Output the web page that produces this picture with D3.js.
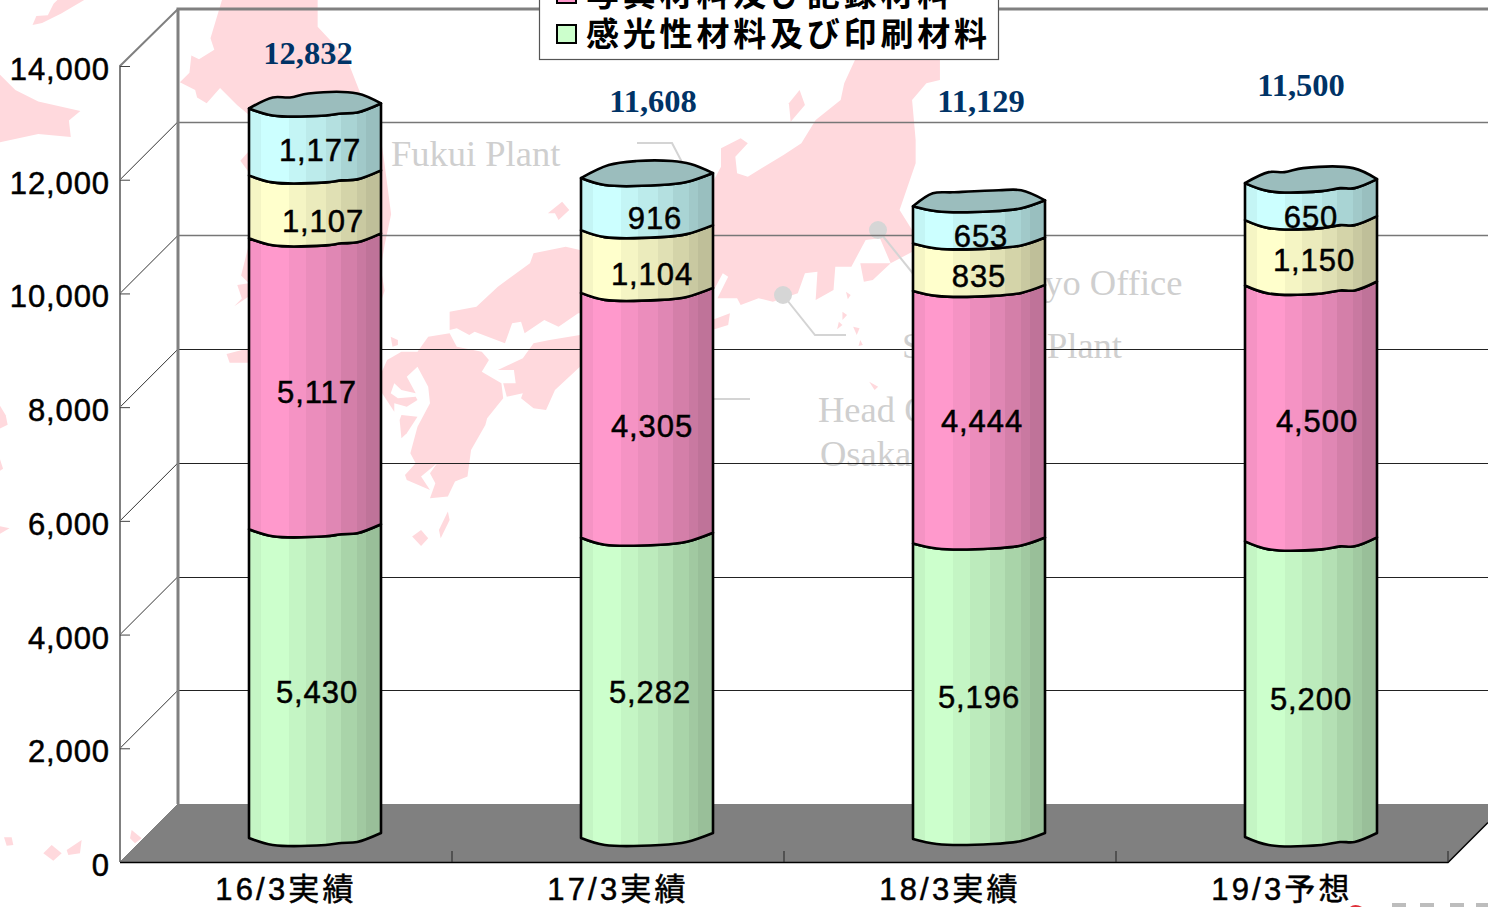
<!DOCTYPE html>
<html lang="ja">
<head>
<meta charset="utf-8">
<title>Sales by product group</title>
<script src="https://cdn.jsdelivr.net/npm/d3@7"></script>
<style>
  html, body { margin: 0; padding: 0; background: #fff; overflow: hidden; }
  svg { display: block; }
  text { font-family: "Liberation Sans", "Noto Sans CJK JP", sans-serif; fill: #000; }
  .num { font-size: 31px; letter-spacing: 0.9px; stroke: #000; stroke-width: 0.5px; }
  .total { font-family: "Liberation Serif", serif; font-weight: bold; font-size: 32.5px; fill: #003366; }
  .faint { font-family: "Liberation Serif", serif; font-size: 36.5px; fill: #cfcfcf; }
  .cat { font-size: 31px; letter-spacing: 3.2px; stroke: #000; stroke-width: 0.5px; }
  .legend-text { font-size: 33px; letter-spacing: 3.8px; font-weight: 700; }
</style>
</head>
<body>
<svg id="chart" width="1488" height="907"></svg>
<script>
// values
const categories = ['16/3実績', '17/3実績', '18/3実績', '19/3予想'];
const greenValues = [5430, 5282, 5196, 5200];
const pinkValues = [5117, 4305, 4444, 4500];
const yellowValues = [1107, 1104, 835, 1150];
const cyanValues = [1177, 916, 653, 650];
const totals = [12832, 11608, 11129, 11500];
const tickValues = [0, 2000, 4000, 6000, 8000, 10000, 12000, 14000];
const legendNames = ['写真材料及び記録材料', '感光性材料及び印刷材料'];
const placeNames = ['Fukui Plant', 'Tokyo Office', 'Shizuoka Plant', 'Head Office', 'Osaka'];

const seriesKeys = ['green', 'pink', 'yellow', 'cyan'];
const seriesValues = { green: greenValues, pink: pinkValues, yellow: yellowValues, cyan: cyanValues };
const seriesColors = { green: '#ccffcc', pink: '#ff99cc', yellow: '#ffffcc', cyan: '#ccffff' };

// box geometry
const W = 1488, H = 907;
const depth = 58, half = depth / 2;
const barW = 132;
const y = d3.scaleLinear().domain([0, 14000]).range([862, 66]);
const x = d3.scaleBand().domain(categories).range([120, 1448]);
const barCenter = (c) => x(c) + x.bandwidth() / 2 + half;

// wobbly rims of the cylinders, [fraction of width, dy]
const frontRims = [
  [[0, 5], [.18, 12], [.58, 12], [.7, 10], [.82, 9], [1, 0]],
  [[0, 5], [.18, 12], [.6, 12], [.8, 9], [1, 0]],
  [[0, 6], [.18, 11], [.6, 11], [.82, 8], [1, 0]],
  [[0, 4], [.18, 12], [.58, 12], [.72, 9], [.83, 9], [1, 0]],
];
const backRims = [
  [[0, 5], [.18, -6], [.31, -6], [.45, -10], [.82, -10], [1, 0]],
  [[0, 5], [.21, -8], [.42, -12], [.69, -12], [.83, -9], [1, 0]],
  [[0, 6], [.15, -7], [.3, -8], [.65, -10], [.82, -10], [1, 0]],
  [[0, 4], [.18, -7], [.3, -7], [.44, -11], [.82, -11], [1, 0]],
];
// vertical shading bands of the cylinders
const bands = [[0, .96], [.09, 1], [.3, .96], [.43, .92], [.58, .88], [.7, .83], [.82, .79], [.89, .75]];

// label placement relative to the middle of a segment, [dx, dy], per column
const labelNudge = [
  { green: [2, 0], pink: [2, 0], yellow: [8, 6], cyan: [5, 0] },
  { green: [3, -4], pink: [5, 3], yellow: [5, 4], cyan: [8, 6] },
  { green: [0, -1], pink: [3, -3], yellow: [0, 2], cyan: [2, 4] },
  { green: [0, 1], pink: [6, -1], yellow: [3, -2], cyan: [0, 6] },
];
const totalPos = [[308, 64], [653, 112], [981, 112], [1301, 96]];

const svg = d3.select('#chart').attr('viewBox', `0 0 ${W} ${H}`);
const defs = svg.append('defs');
const line = d3.line();
const rimLine = d3.line().curve(d3.curveCatmullRom.alpha(0.5));

seriesKeys.forEach((k) => {
  const base = d3.rgb(seriesColors[k]);
  const g = defs.append('linearGradient').attr('id', 'shade-' + k);
  bands.forEach(([f, s], i) => {
    const next = i + 1 < bands.length ? bands[i + 1][0] : 1;
    const col = d3.rgb(base.r * s, base.g * s, base.b * s).formatHex();
    g.append('stop').attr('offset', f).attr('stop-color', col);
    g.append('stop').attr('offset', next).attr('stop-color', col);
  });
});

// background map, traced shapes
function drawMap() {
  const pink = '#ffd9dd';
  const left = svg.append('g').attr('fill', pink);
  const farWest = [
    [[85, 65], [95, 42], [125, 40], [140, 10], [150, 0], [220, 0], [160, 35], [110, 60]],
    [[0, 195], [40, 235], [100, 265], [210, 290], [180, 315], [185, 358], [100, 350], [0, 372]],
    [[0, 1060], [15, 1085], [20, 1110], [0, 1120]],
    [[0, 1375], [25, 1380], [0, 1395]],
    [[0, 1200], [8, 1225], [0, 1230]],
    // northern island, runs behind the first column
    [[580, 0], [550, 100], [560, 130], [520, 155], [500, 145], [495, 190], [470, 215], [510, 235], [515, 255], [540, 270], [575, 230],
      [620, 275], [650, 300], [650, 395], [628, 420], [650, 450], [650, 640], [630, 720], [650, 740], [620, 745], [632, 780], [612, 800],
      [650, 775], [995, 790], [1005, 760], [995, 700], [1005, 640], [1022, 560], [1005, 430], [995, 360], [940, 240], [905, 150], [830, 70], [830, 0]],
    [[592, 925], [650, 910], [650, 948], [600, 948]],
  ];
  farWest.forEach((p) => left.append('path').attr('d', line(p) + 'Z').attr('transform', 'scale(0.3827)'));

  const southWest = [
    [[12, 412], [35, 412], [40, 435], [20, 437]],
    [[130, 460], [155, 435], [185, 460], [160, 482]],
    [[200, 450], [245, 420], [240, 460], [205, 465]],
    [[395, 390], [425, 415], [405, 430], [390, 415]],
  ];
  southWest.forEach((p) => left.append('path').attr('d', line(p) + 'Z').attr('transform', 'translate(0,700) scale(0.3333)'));

  // main islands
  const main = svg.append('g').attr('fill', pink).attr('transform', 'translate(380,50) scale(0.3571,0.3333)');
  const shapes = [
    // Honshu
    [[1330, 30], [1300, 100], [1290, 150], [1220, 210], [1180, 280], [1130, 315], [1030, 380], [1000, 370], [995, 320], [1030, 280], [1010, 265],
      [955, 295], [955, 350], [930, 400], [800, 500], [560, 600], [520, 590], [430, 610], [420, 640], [330, 710], [270, 770], [195, 785], [195, 840],
      [215, 835], [250, 855], [265, 845], [350, 880], [370, 820], [395, 815], [405, 850], [460, 810], [500, 830], [555, 790], [800, 790], [930, 730],
      [960, 670], [975, 680], [945, 745], [1000, 745], [1010, 765], [1060, 745], [1100, 755], [1170, 730], [1190, 670], [1225, 665], [1220, 750],
      [1270, 720], [1275, 650], [1320, 650], [1360, 570], [1400, 565], [1430, 640], [1380, 690], [1355, 695], [1345, 640], [1430, 640], [1500, 600],
      [1490, 540], [1455, 480], [1500, 340], [1500, 270], [1490, 150], [1530, 100], [1568, 90], [1568, 30]],
    // Kii
    [[800, 900], [930, 810], [980, 790], [975, 825], [930, 840], [800, 1000]],
    // Shikoku
    [[560, 855], [475, 870], [430, 880], [400, 925], [330, 960], [375, 960], [380, 1000], [345, 1000], [355, 1040], [400, 1030], [395, 1045], [430, 1075],
      [465, 1080], [490, 1020], [560, 950]],
    // Kyushu
    [[135, 860], [195, 850], [215, 890], [285, 905], [305, 930], [285, 965], [340, 1000], [345, 1045], [300, 1105], [295, 1125], [255, 1200], [245, 1280],
      [210, 1295], [190, 1340], [140, 1345], [155, 1300], [140, 1270], [160, 1240], [115, 1280], [140, 1320], [75, 1290], [70, 1275], [100, 1240], [85, 1210],
      [105, 1130], [140, 1060], [135, 1010], [105, 950], [75, 980], [100, 1030], [60, 1020], [40, 1000], [30, 1030], [50, 1045], [100, 1040], [105, 1050],
      [75, 1070], [40, 1060], [40, 1085], [0, 1020], [5, 965], [20, 930], [60, 905], [105, 905]],
    [[60, 1095], [105, 1100], [75, 1150], [60, 1165], [55, 1110]],
    [[190, 1385], [195, 1410], [170, 1465], [165, 1440]],
    [[90, 1460], [115, 1440], [135, 1465], [115, 1488]],
    [[30, 860], [50, 870], [50, 885], [35, 890]],
    [[470, 490], [510, 455], [530, 480], [500, 510], [490, 490]],
    // Sado
    [[1175, 120], [1190, 165], [1150, 215], [1145, 160]],
    // Izu islands
    [[1305, 725], [1318, 735], [1310, 748]], [[1295, 785], [1308, 795], [1295, 810]], [[1285, 815], [1295, 825], [1280, 838]],
    [[1325, 830], [1343, 835], [1335, 855]], [[1345, 870], [1352, 885], [1340, 888]], [[1370, 995], [1395, 1010], [1385, 1020]],
  ];
  shapes.forEach((p) => main.append('path').attr('d', line(p) + 'Z'));
}

function drawPlaceLabels() {
  const g = svg.append('g');
  const pos = [[391, 166], [988, 295], [902, 358], [818, 422], [820, 466]];
  placeNames.forEach((n, i) => {
    g.append('text').attr('class', 'faint').attr('x', pos[i][0]).attr('y', pos[i][1]).text(n);
  });
  const leaders = [
    [[637, 143], [672, 143], [684, 166]],
    [[700, 399], [750, 399]],
    [[783, 295], [815, 335], [846, 335]],
    [[878, 230], [915, 276]],
  ];
  leaders.forEach((p) => g.append('path').attr('d', line(p)).attr('fill', 'none').attr('stroke', '#d4d4d4').attr('stroke-width', 2));
  g.selectAll('circle').data([[783, 295], [878, 230]]).join('circle')
    .attr('cx', (d) => d[0]).attr('cy', (d) => d[1]).attr('r', 9).attr('fill', '#d6d6d6');
}

function drawBox() {
  const grey = '#808080';
  svg.append('path')
    .attr('d', line([[120, 862], [120 + depth, 862 - depth], [W, 862 - depth], [W, 822], [1448, 862]]) + 'Z')
    .attr('fill', grey);

  // gridlines on the back and side walls
  const grid = svg.append('g').attr('fill', 'none');
  tickValues.filter((t) => t > 0 && t < 14000).forEach((t) => {
    const yy = Math.round(y(t)) - depth + 0.5;
    const heavy = t >= 10000;
    grid.append('line').attr('x1', 120 + depth).attr('x2', W).attr('y1', yy).attr('y2', yy)
      .attr('stroke', heavy ? '#777' : '#222').attr('stroke-width', heavy ? 1.5 : 1);
    grid.append('line').attr('x1', 120).attr('x2', 120 + depth).attr('y1', y(t)).attr('y2', y(t) - depth)
      .attr('stroke', '#333').attr('stroke-width', 1);
  });

  // walls
  svg.append('path').attr('d', line([[120, 862], [120, 66], [178, 9], [W, 9]])).attr('fill', 'none').attr('stroke', grey).attr('stroke-width', 2);
  svg.append('path').attr('d', line([[178, 804], [178, 9], [W, 9]])).attr('fill', 'none').attr('stroke', grey).attr('stroke-width', 3);
  svg.append('path').attr('d', line([[120, 862], [178, 804]])).attr('fill', 'none').attr('stroke', grey).attr('stroke-width', 1);

  // value axis
  const yAxis = svg.append('g').attr('transform', 'translate(120,0)')
    .call(d3.axisRight(y).tickValues(tickValues).tickSize(10).tickFormat(''));
  yAxis.select('.domain').remove();
  yAxis.selectAll('line').attr('stroke', '#444').attr('stroke-width', 1);
  svg.append('g').selectAll('text').data(tickValues).join('text')
    .attr('class', 'num').attr('text-anchor', 'end').attr('x', 110).attr('y', (d) => y(d) + 14)
    .text((d) => d3.format(',')(d));

  // category axis
  svg.append('path').attr('d', line([[120, 862.5], [1448, 862.5], [W, 822.5]])).attr('fill', 'none').attr('stroke', '#000').attr('stroke-width', 1.5);
  svg.append('g').selectAll('line').data(categories).join('line')
    .attr('x1', (d) => x(d) + x.bandwidth()).attr('x2', (d) => x(d) + x.bandwidth())
    .attr('y1', 851).attr('y2', 862).attr('stroke', '#222');
  svg.append('g').selectAll('text').data(categories).join('text')
    .attr('class', 'cat').attr('text-anchor', 'middle')
    .attr('x', (d) => x(d) + x.bandwidth() / 2).attr('y', 900).text((d) => d);
}

function rimPoints(rim, cx, yy) {
  return rim.map(([f, dy]) => [cx - barW / 2 + f * barW, yy + dy]);
}

// two rims joined by straight sides
function rimShape(upper, lower) {
  return rimLine(upper) + 'L' + rimLine(lower.slice().reverse()).slice(1) + 'Z';
}

function drawBars() {
  const rows = categories.map((c, i) => Object.fromEntries(seriesKeys.map((k) => [k, seriesValues[k][i]])));
  const stacked = d3.stack().keys(seriesKeys)(rows);
  const g = svg.append('g').attr('stroke', '#000').attr('stroke-width', 2.6).attr('stroke-linejoin', 'round');

  categories.forEach((c, i) => {
    const cx = barCenter(c);
    // bottom segment first so each rim sits on top of the one below
    stacked.forEach((layer) => {
      const [v0, v1] = layer[i];
      const top = rimPoints(frontRims[i], cx, y(v1) - half);
      const bottom = rimPoints(frontRims[i], cx, y(v0) - half);
      g.append('path').attr('d', rimShape(top, bottom)).attr('fill', `url(#shade-${layer.key})`);
    });
    const topY = y(stacked[stacked.length - 1][i][1]) - half;
    g.append('path').attr('d', rimShape(rimPoints(backRims[i], cx, topY), rimPoints(frontRims[i], cx, topY))).attr('fill', '#9bbdbd');
  });

  const labels = svg.append('g');
  categories.forEach((c, i) => {
    stacked.forEach((layer) => {
      const [v0, v1] = layer[i];
      const [dx, dy] = labelNudge[i][layer.key];
      labels.append('text').attr('class', 'num').attr('text-anchor', 'middle')
        .attr('x', barCenter(c) + dx).attr('y', y((v0 + v1) / 2) - half + 24 + dy)
        .text(d3.format(',')(v1 - v0));
    });
    labels.append('text').attr('class', 'total').attr('text-anchor', 'middle')
      .attr('x', totalPos[i][0]).attr('y', totalPos[i][1]).text(d3.format(',')(totals[i]));
  });
}

function drawLegend() {
  const g = svg.append('g');
  g.append('rect').attr('x', 539.5).attr('y', -60).attr('width', 459).attr('height', 119.5)
    .attr('fill', '#fff').attr('stroke', '#555').attr('stroke-width', 1.2);
  const swatches = [seriesColors.pink, seriesColors.green];
  legendNames.forEach((n, i) => {
    const base = 46 - (legendNames.length - 1 - i) * 40;
    g.append('rect').attr('x', 557).attr('y', base - 21).attr('width', 19).attr('height', 18)
      .attr('fill', swatches[i]).attr('stroke', '#000').attr('stroke-width', 2);
    g.append('text').attr('class', 'legend-text').attr('x', 586).attr('y', base).text(n);
  });
}

function drawFooter() {
  // edge of a logo cut off by the picture frame
  svg.append('path').attr('d', 'M1350,907 Q1355,903 1362,907Z').attr('fill', '#e0303a');
  svg.append('g').attr('fill', '#bdbdbd').selectAll('rect').data([1392, 1420, 1450, 1476]).join('rect')
    .attr('x', (d) => d).attr('y', 903).attr('width', 14).attr('height', 4);
}

drawMap();
drawPlaceLabels();
drawBox();
drawBars();
drawLegend();
drawFooter();
</script>
</body>
</html>
